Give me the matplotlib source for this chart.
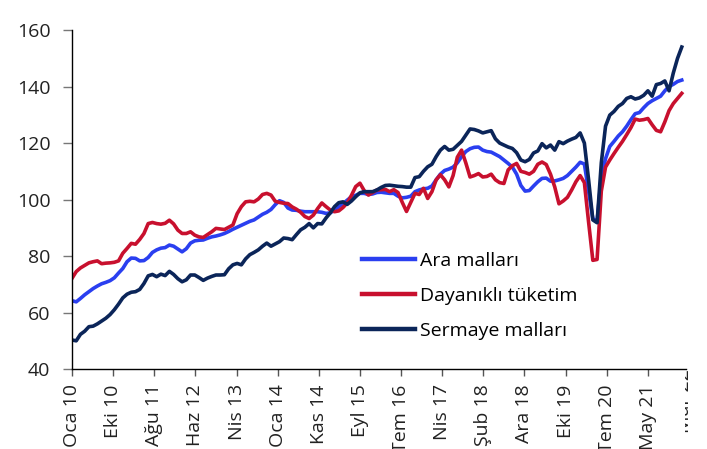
import numpy as np
import matplotlib
matplotlib.use("Agg")
import matplotlib.pyplot as plt
from matplotlib.transforms import Bbox

plt.rcParams['font.family'] = ['Open Sans', 'DejaVu Sans']

# aylik endeks, Oca 2010 - Oca 2022
ara_mallari = [
    64.2, 63.8, 65.0, 66.3, 67.4, 68.5, 69.4, 70.2, 70.7, 71.3, 72.3, 74.0,
    75.6, 78.0, 79.3, 79.2, 78.3, 78.4, 79.5, 81.3, 82.2, 82.8, 83.0, 83.9,
    83.5, 82.5, 81.5, 82.6, 84.6, 85.4, 85.6, 85.7, 86.3, 86.8, 87.1, 87.5,
    88.0, 88.7, 89.5, 90.2, 90.9, 91.6, 92.3, 92.8, 93.8, 94.8, 95.5, 96.5,
    98.2, 99.6, 99.0, 97.0, 96.3, 96.2, 95.9, 95.7, 95.7, 95.7, 95.7, 95.5,
    95.1, 95.3, 96.3, 97.5, 98.5, 99.8, 101.0, 101.5, 102.2, 102.2, 101.8, 102.0,
    102.5, 102.6, 102.4, 102.2, 102.2, 101.2, 100.6, 100.8, 101.2, 102.8, 103.4, 103.8,
    104.0, 104.8, 107.0, 109.0, 110.3, 110.8, 111.5, 113.0, 115.2, 117.0, 118.0, 118.5,
    118.6, 117.5, 117.0, 116.8, 116.0, 115.2, 114.0, 112.8, 111.5, 109.0, 105.0, 103.0,
    103.2, 104.8, 106.3, 107.5, 107.6, 106.5, 106.6, 107.0, 107.5, 108.5, 110.0, 111.5,
    113.2, 112.6, 103.0, 93.2, 92.3, 108.0, 114.5, 118.8, 120.6, 122.5, 124.0, 126.0,
    128.3, 130.4, 130.8, 132.5, 134.0, 135.0, 135.8, 136.6, 138.5, 140.0, 140.8, 141.8,
    142.3,
]

dayanikli_tuketim = [
    72.1, 74.5, 75.8, 76.7, 77.6, 78.0, 78.3, 77.3, 77.5, 77.6, 77.8, 78.3,
    81.0, 82.7, 84.5, 84.2, 85.9, 88.0, 91.5, 91.9, 91.5, 91.3, 91.6, 92.7,
    91.4, 89.2, 88.0, 88.0, 88.6, 87.4, 86.8, 86.6, 87.6, 88.6, 89.8, 89.6,
    89.4, 90.2, 91.0, 95.0, 97.5, 99.2, 99.4, 99.2, 100.2, 101.8, 102.2, 101.6,
    99.4, 99.0, 98.7, 98.6, 97.4, 96.6, 95.5, 94.0, 93.3, 94.5, 96.8, 98.8,
    97.5, 96.3, 95.7, 96.0, 97.2, 98.8, 101.5, 104.6, 105.8, 103.2, 101.6, 102.5,
    103.4, 103.5, 103.6, 102.8, 103.5, 102.5, 99.0, 95.8, 99.0, 102.2, 101.8, 104.0,
    100.4, 102.8, 107.0, 108.8, 107.0, 104.5, 108.5, 115.0, 117.5, 113.0, 108.0, 108.5,
    109.2, 108.0, 108.2, 109.0, 107.0, 106.0, 105.7, 110.5, 112.0, 112.8, 110.0, 109.6,
    109.0, 110.0, 112.5, 113.3, 112.4, 109.0, 104.5, 98.5, 99.5, 100.8, 103.4, 106.3,
    108.5, 106.0, 92.0, 78.5, 78.8, 103.0, 111.5, 114.0, 116.3, 118.5, 120.6, 123.0,
    125.5, 128.5, 128.1, 128.3, 128.7, 126.5, 124.5, 124.0, 127.5, 131.5, 134.0, 135.8,
    137.6,
]

sermaye_mallari = [
    50.3, 50.0, 52.3, 53.4, 55.0, 55.2, 56.0, 57.0, 58.0, 59.3, 61.0, 63.0,
    65.2, 66.5, 67.2, 67.4, 68.2, 70.3, 73.0, 73.5, 72.7, 73.6, 73.1, 74.6,
    73.5, 72.0, 70.9, 71.6, 73.3, 73.3, 72.4, 71.4, 72.2, 72.8, 73.3, 73.3,
    73.4, 75.5, 76.9, 77.4, 76.9, 79.0, 80.5, 81.3, 82.2, 83.5, 84.6, 83.5,
    84.3, 85.1, 86.4, 86.2, 85.8, 87.6, 89.3, 90.2, 91.5, 90.0, 91.5, 91.4,
    93.5, 95.3, 97.5, 98.9, 99.2, 98.3, 99.5, 101.0, 102.4, 102.8, 102.8, 102.8,
    103.4, 104.3, 105.0, 105.1, 104.9, 104.7, 104.6, 104.4, 104.4, 107.8, 108.1, 110.0,
    111.6, 112.5, 115.2, 117.5, 118.8, 117.5, 117.8, 119.2, 120.6, 122.8, 125.0, 124.8,
    124.3, 123.6, 124.0, 124.4, 121.5, 120.0, 119.3, 118.6, 118.1, 116.6, 114.0, 113.4,
    114.2, 116.5, 117.2, 119.8, 118.3, 119.3, 117.5, 120.5, 119.8, 120.7, 121.4, 122.0,
    123.6, 120.0, 107.0, 92.8, 91.8, 113.0, 126.0, 129.9, 131.2, 133.0, 134.0, 135.8,
    136.4, 135.6, 136.0, 136.9, 138.5, 136.6, 140.7, 141.1, 142.0, 138.5, 144.8, 150.0,
    154.0,
]

tick_labels = ["Oca 10", "Eki 10", "Ağu 11", "Haz 12", "Nis 13", "Oca 14", "Kas 14",
               "Eyl 15", "Tem 16", "Nis 17", "Şub 18", "Ara 18", "Eki 19", "Tem 20",
               "May 21", "Mar 22"]

renkler = {"Ara malları": "#2a3ff0",
           "Dayanıklı tüketim": "#c8102e",
           "Sermaye malları": "#0b2559"}

ay = np.arange(len(ara_mallari))

fig = plt.figure(figsize=(7.07, 4.49), dpi=100)
ax = fig.add_axes([0.1018, 0.178, 0.8685, 0.755])

for ad, seri in [("Ara malları", ara_mallari),
                 ("Dayanıklı tüketim", dayanikli_tuketim),
                 ("Sermaye malları", sermaye_mallari)]:
    ax.plot(ay, seri, color=renkler[ad], lw=2.6, label=ad, solid_joinstyle='round')

ax.set_xlim(0, 145)
ax.set_ylim(40, 160)
ax.set_yticks(np.arange(40, 161, 20))

tick_pos = np.arange(len(tick_labels)) * 136 / 14
ax.set_xticks(tick_pos[:-1])
ax.set_xticklabels(tick_labels[:-1], rotation=90, va='top', ha='center')

# son etiket kenarda kesik
son = ax.text(144.6, 40, tick_labels[-1], rotation=90, va='top', ha='center',
              fontsize=14, color='#222222')
son.set_clip_on(True)
son.set_clip_box(Bbox([[685, 0], [707, 449]]))
son.set_y(40)

ax.tick_params(axis='both', labelsize=14, width=1, colors='#222222', direction='out')
ax.tick_params(axis='y', color='#777777', length=6.5, pad=9)
ax.tick_params(axis='x', color='#555555', length=5, pad=6)

for s in ['top', 'right']:
    ax.spines[s].set_visible(False)
for s in ['left', 'bottom']:
    ax.spines[s].set_color('black')
    ax.spines[s].set_linewidth(1)

leg = ax.legend(loc='upper left', bbox_to_anchor=(0.472, 0.345), frameon=False,
                fontsize=14, handlelength=2.73, handletextpad=0.28, labelspacing=0.86,
                borderpad=0, borderaxespad=0)
for l in leg.get_lines():
    l.set_linewidth(3.2)

fig.savefig("out.png", dpi=100)
